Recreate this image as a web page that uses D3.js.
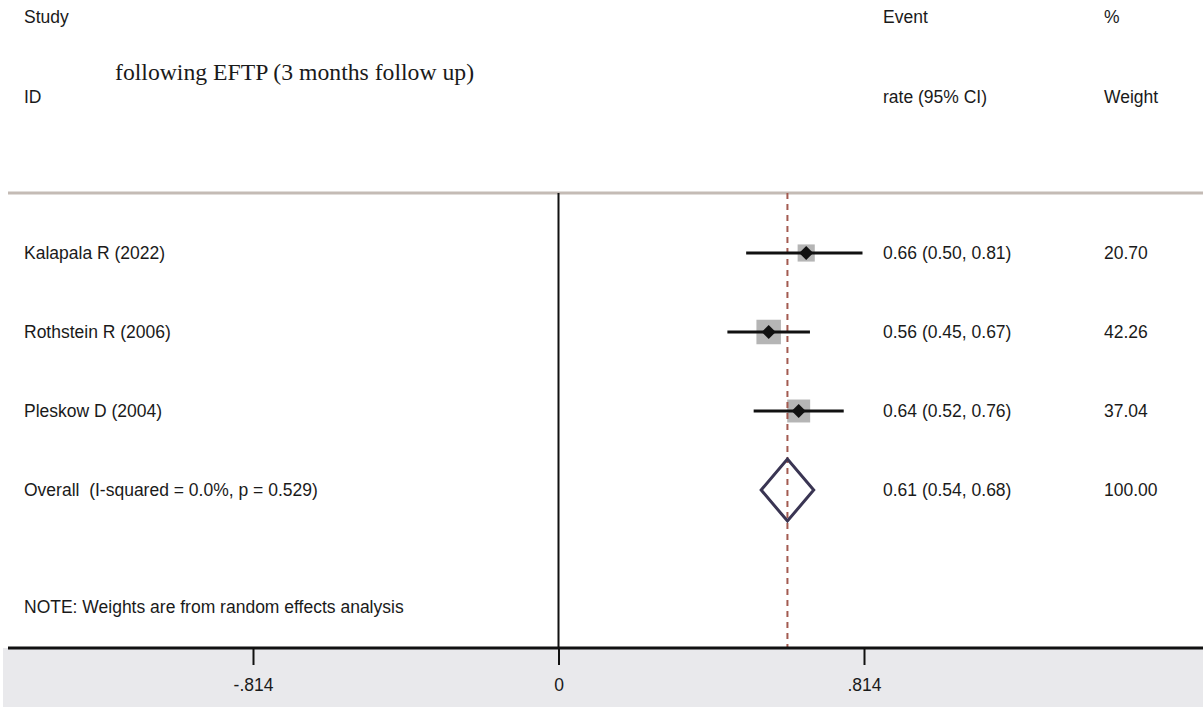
<!DOCTYPE html>
<html><head><meta charset="utf-8">
<script src="https://cdn.jsdelivr.net/npm/d3@7"></script>
<style>body{margin:0;background:#fff}svg{display:block}text{font-family:Arial,"Liberation Sans",sans-serif;white-space:pre}</style>
</head><body><svg id="c" width="1203" height="707"></svg>
<script>
const studies = ["Kalapala R (2022)", "Rothstein R (2006)", "Pleskow D (2004)"];
const est = [0.66, 0.56, 0.64];
const lower = [0.50, 0.45, 0.52];
const upper = [0.81, 0.67, 0.76];
const weights = [20.70, 42.26, 37.04];
const overall = {label: "Overall  (I-squared = 0.0%, p = 0.529)", est: 0.61, lo: 0.54, hi: 0.68, w: 100.00};
const ticks = [-0.814, 0, 0.814];
const tickLabels = ["-.814", "0", ".814"];

const svg = d3.select("#c");
const x = d3.scaleLinear().domain([-0.814, 0.814]).range([253, 864]);
const y = d3.scalePoint().domain([0,1,2,3]).range([253, 490]);
const yTop = 193, yBot = 648;
const FS = 17.5;

svg.append("rect").attr("x", 3).attr("y", yBot).attr("width", 1200).attr("height", 707 - yBot).attr("fill", "#e9e9ec");

const hdr = svg.append("g").attr("font-size", FS).attr("fill", "#1a1a1a");
hdr.append("text").attr("x", 24).attr("y", 23).text("Study");
hdr.append("text").attr("x", 24).attr("y", 103).text("ID");
hdr.append("text").attr("x", 883).attr("y", 23).text("Event");
hdr.append("text").attr("x", 883).attr("y", 103).text("rate (95% CI)");
hdr.append("text").attr("x", 1104).attr("y", 23).text("%");
hdr.append("text").attr("x", 1104).attr("y", 103).text("Weight");
svg.append("text").attr("x", 115).attr("y", 80).attr("font-size", 23.7)
  .style("font-family", "'Liberation Serif','Times New Roman',serif").attr("fill", "#1a1a1a")
  .text("following EFTP (3 months follow up)");

svg.append("line").attr("x1", 8).attr("x2", 1203).attr("y1", yTop).attr("y2", yTop)
  .attr("stroke", "#c4bbb5").attr("stroke-width", 3);

svg.append("line").attr("x1", x(0)).attr("x2", x(0)).attr("y1", yTop).attr("y2", yBot)
  .attr("stroke", "#111").attr("stroke-width", 2);

const k = 3.77;
studies.forEach((s, i) => {
  const side = k * Math.sqrt(weights[i]);
  svg.append("rect").attr("x", x(est[i]) - side/2).attr("y", y(i) - side/2)
    .attr("width", side).attr("height", side).attr("fill", "#b5b5b5");
});

svg.append("line").attr("x1", x(overall.est)).attr("x2", x(overall.est)).attr("y1", yTop).attr("y2", yBot)
  .attr("stroke", "#a35a50").attr("stroke-width", 2).attr("stroke-dasharray", "6,5");

studies.forEach((s, i) => {
  svg.append("line").attr("x1", x(lower[i])).attr("x2", x(upper[i])).attr("y1", y(i)).attr("y2", y(i))
    .attr("stroke", "#111").attr("stroke-width", 3);
  const cx = x(est[i]), cy = y(i), d = 7;
  svg.append("path").attr("d", `M${cx-d},${cy}L${cx},${cy-d}L${cx+d},${cy}L${cx},${cy+d}Z`).attr("fill", "#111");
});

{
  const cy = y(3), h = 31;
  svg.append("path")
    .attr("d", `M${x(overall.lo)},${cy}L${x(overall.est)},${cy-h}L${x(overall.hi)},${cy}L${x(overall.est)},${cy+h}Z`)
    .attr("fill", "none").attr("stroke", "#3a3553").attr("stroke-width", 3);
}

const rt = svg.append("g").attr("font-size", FS).attr("fill", "#1a1a1a");
const f2 = d3.format(".2f");
studies.forEach((s, i) => {
  rt.append("text").attr("x", 24).attr("y", y(i) + 6).text(s);
  rt.append("text").attr("x", 883).attr("y", y(i) + 6).text(`${f2(est[i])} (${f2(lower[i])}, ${f2(upper[i])})`);
  rt.append("text").attr("x", 1104).attr("y", y(i) + 6).text(f2(weights[i]));
});
rt.append("text").attr("x", 24).attr("y", y(3) + 6).text(overall.label);
rt.append("text").attr("x", 883).attr("y", y(3) + 6).text(`${f2(overall.est)} (${f2(overall.lo)}, ${f2(overall.hi)})`);
rt.append("text").attr("x", 1104).attr("y", y(3) + 6).text(f2(overall.w));
rt.append("text").attr("x", 24).attr("y", 613).text("NOTE: Weights are from random effects analysis");

const axis = d3.axisBottom(x).tickValues(ticks).tickFormat((d, i) => tickLabels[i]).tickSize(17).tickPadding(14);
const ag = svg.append("g").attr("transform", `translate(0,${yBot})`).call(axis);
ag.select(".domain").remove();
ag.selectAll(".tick line").attr("stroke", "#111").attr("stroke-width", 2);
ag.selectAll(".tick text").attr("font-size", FS).attr("fill", "#1a1a1a").style("font-family", "Arial, 'Liberation Sans', sans-serif");
svg.append("line").attr("x1", 8).attr("x2", 1203).attr("y1", yBot).attr("y2", yBot)
  .attr("stroke", "#111").attr("stroke-width", 3);
</script></body></html>
